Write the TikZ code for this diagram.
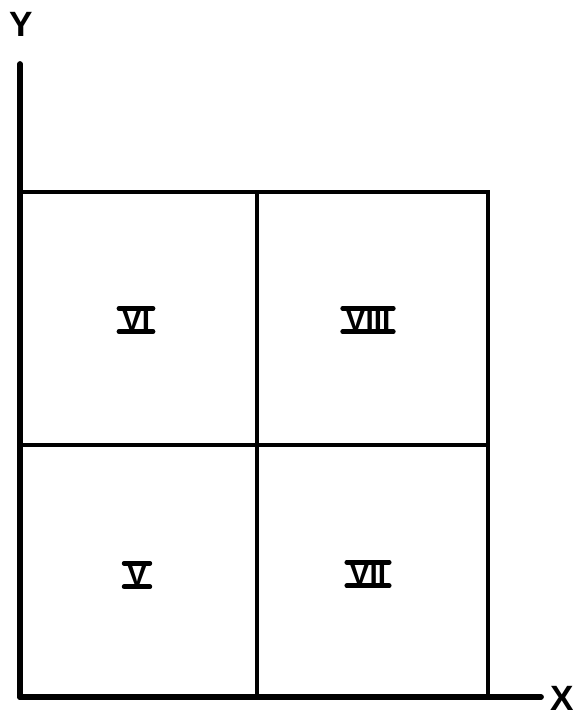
\documentclass[tikz,border=0pt]{standalone}
\usepackage{fontspec}
\setmainfont{Liberation Sans}
\begin{document}
\begin{tikzpicture}[x=0.02cm,y=-0.02cm]
\tikzset{
  axisline/.style={line width=3.3pt, line cap=round},
  gridline/.style={line width=2.3pt},
  numbar/.style={line width=2.6pt, line cap=round},
  quadnum/.style={inner xsep=1.5pt, inner ysep=0.6pt, font=\fontsize{17}{17}\selectfont\bfseries},
  axislabel/.style={font=\fontsize{20}{20}\selectfont\bfseries}
}
\useasboundingbox (0,0) rectangle (572,717);
% axes
\coordinate (o) at (20,697);
\coordinate (ytop) at (20,64);
\coordinate (xend) at (541,697);
\draw[axisline] (o) -- (ytop);
\draw[axisline] (o) -- (xend);
\node[axislabel] (ylab) at (21,24) {Y};
\node[axislabel] (xlab) at (562,698) {X};
% cells
\draw[gridline] (20,192) -- (488,192) -- (488,697);
\draw[gridline] (257,192) -- (257,697);
\draw[gridline] (20,445) -- (488,445);
% numerals
\node[quadnum] (vi) at (136,320) {VI};
\node[quadnum] (viii) at (368,320) {VIII};
\node[quadnum] (v) at (137,575) {V};
\node[quadnum] (vii) at (368,574) {VII};
\foreach \n in {v,vi,vii,viii} {
  \draw[numbar] (\n.north west) -- (\n.north east);
  \draw[numbar] (\n.south west) -- (\n.south east);
}
\end{tikzpicture}
\end{document}
